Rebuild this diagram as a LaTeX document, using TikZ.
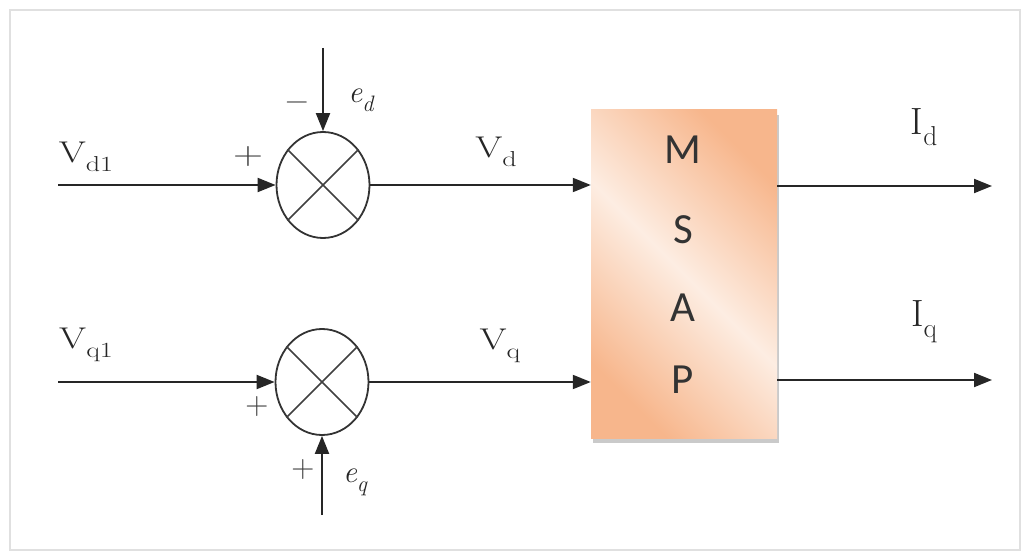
\documentclass[tikz,border=0pt]{standalone}
\usepackage{fontspec}
\newfontfamily\boxfont{Carlito}
\usetikzlibrary{arrows.meta,shapes.geometric,shadows}
\definecolor{boxdark}{HTML}{F7B68C}
\definecolor{boxlight}{HTML}{FDEDE2}
\newcommand\subtxt[2]{#1\raisebox{-0.28em}{\scalebox{0.72}{#2}}}
\newcommand\widetxt[1]{\scalebox{1.3}[1]{#1}}
\tikzset{
  wire/.style={line width=2pt,black!85},
  arr/.style={wire,-{Triangle[length=18pt,width=14pt]}},
  sumnode/.style={ellipse,draw,line width=1.8pt,black!80,minimum width=93pt,minimum height=106pt,inner sep=0pt},
  lbl/.style={inner sep=0pt,font=\fontsize{30}{34}\selectfont,black!85},
  elbl/.style={inner sep=0pt,font=\itshape\fontsize{31}{36}\selectfont,black!85},
  ilbl/.style={inner sep=0pt,font=\fontsize{38}{42}\selectfont,black!85},
  sgn/.style={inner sep=0pt,font=\fontsize{32}{36}\selectfont,black!75},
  letter/.style={inner sep=0pt,font=\boxfont\fontsize{43}{46}\selectfont,black!80},
}
\begin{document}
\begin{tikzpicture}[x=1pt,y=-1pt]
\useasboundingbox (0,0) rectangle (1026,556);
\draw[black!12,line width=1.5pt] (10,10) rectangle (1020,550);
% summing junctions
\node[sumnode] (s1) at (323,185) {};
\node[sumnode] (s2) at (322,382) {};
\foreach \s in {s1,s2}{
  \draw[line width=1.5pt,black!75] (\s.45) -- (\s.225);
  \draw[line width=1.5pt,black!75] (\s.135) -- (\s.315);
}
% MSAP block
\node[draw=none,minimum width=186pt,minimum height=328pt,inner sep=0pt,
      left color=boxdark,right color=boxdark,middle color=boxlight,shading angle=135,
      drop shadow={opacity=0.35,shadow xshift=2pt,shadow yshift=-5pt,fill=black!60}] (box) at (684,274) {};
\node[letter] (lM) at (683,150) {M};
\node[letter] (lS) at (683,230) {S};
\node[letter] (lA) at (683,308) {A};
\node[letter] (lP) at (683,380) {P};
% coordinates
\coordinate (in1) at (58,185);
\coordinate (in2) at (58,382);
\coordinate (edt) at (323,48);
\coordinate (eqb) at (322,515);
\coordinate (o1) at (992,186);
\coordinate (o2) at (992,380);
\coordinate (b1) at (box.west |- s1);
\coordinate (b2) at (box.west |- s2);
\coordinate (c1) at (box.east |- o1);
\coordinate (c2) at (box.east |- o2);
% connectors
\draw[arr] (in1) -- (s1);
\draw[arr] (in2) -- (s2);
\draw[arr] (edt) -- (s1);
\draw[arr] (eqb) -- (s2);
\draw[arr] (s1.east) -- (b1);
\draw[arr] (s2.east) -- (b2);
\draw[arr] (c1) -- (o1);
\draw[arr] (c2) -- (o2);
% labels
\node[lbl] (tvd1) at (86,157) {\widetxt{\subtxt{V}{d1}}};
\node[lbl] (tvq1) at (86,345) {\widetxt{\subtxt{V}{q1}}};
\node[lbl] (tvd) at (496,152) {\widetxt{\subtxt{V}{d}}};
\node[lbl] (tvq) at (500,346) {\widetxt{\subtxt{V}{q}}};
\node[elbl] (ted) at (361,100) {\subtxt{e}{d}};
\node[elbl] (teq) at (355,482) {\subtxt{e}{q}};
\node[ilbl] (tid) at (924,127) {\subtxt{I}{d}};
\node[ilbl] (tiq) at (924,322) {\subtxt{I}{q}};
\node[sgn] (p1) at (248,157) {\widetxt{+}};
\node[sgn] (m1) at (297,106) {−};
\node[sgn] (p2) at (257,407) {+};
\node[sgn] (p3) at (303,470) {+};
\end{tikzpicture}
\end{document}
